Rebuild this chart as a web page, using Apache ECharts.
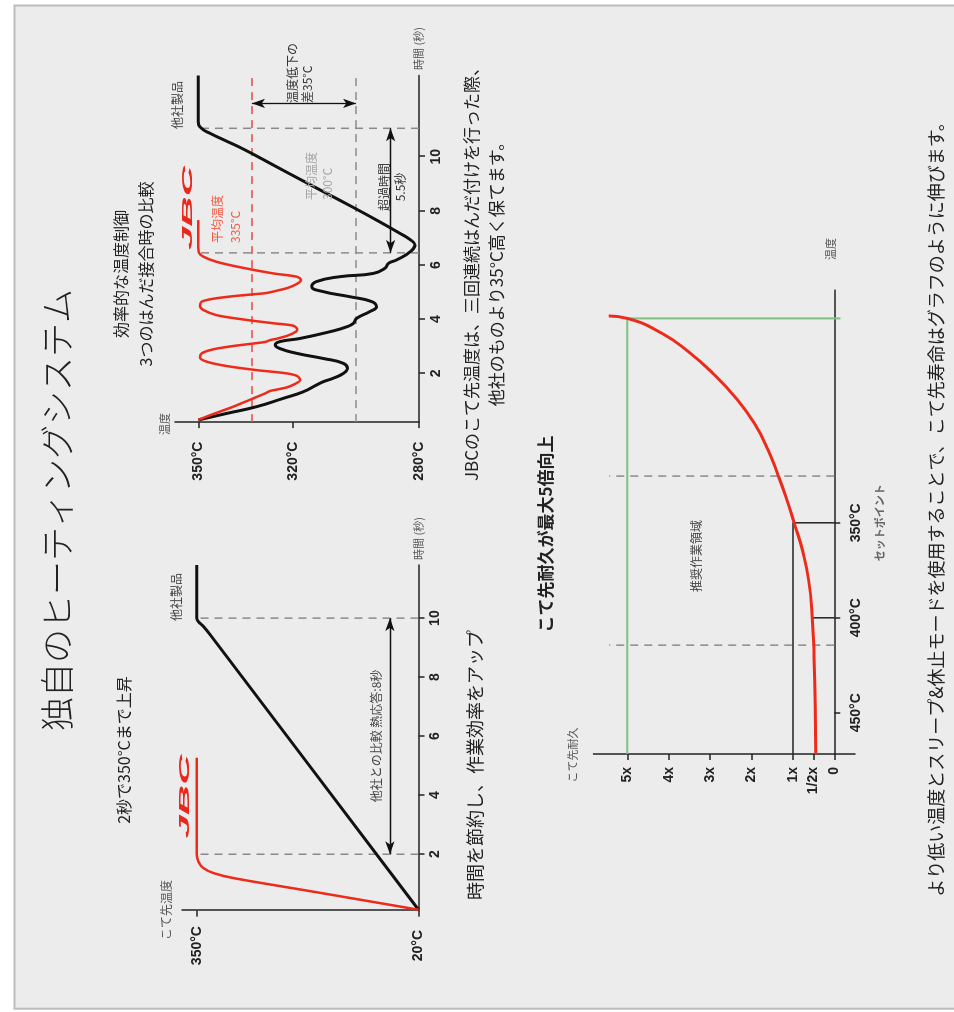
<!DOCTYPE html>
<html><head><meta charset="utf-8">
<script src="https://cdn.jsdelivr.net/npm/echarts@6/dist/echarts.min.js"></script>
<style>
html,body{margin:0;padding:0;overflow:hidden;background:#fff;width:954px;height:1012px}
#wrap{position:absolute;left:0;top:1012px;width:1012px;height:954px;transform-origin:0 0;transform:rotate(-90deg)}
#chart{width:1012px;height:954px}
</style></head><body>
<div id="wrap"><div id="chart"></div></div>
<script>
// ---------- Chart 1: heat-up to 350°C (time s, temperature °C)
const heatUpJbc = [[0.12,20],[0.73,176],[1.19,295],[1.36,325],[1.53,340],[1.75,347.5],[2.0,350],[5.27,350]];
const heatUpOther = [[0.12,20],[9.44,330],[9.72,340],[9.88,347.5],[10,350],[11.8,350]];
const heatUpTimeTicks = [2,4,6,8,10];
const heatUpTempTicks = [20,350];
const heatUpMarks = [2,10];
const heatUpArrowTemp = 62.5;

// ---------- Chart 2: three solder joints (time s, temperature °C)
const solderJbc = [[0.28,350],[0.50,345.2],[0.77,338.9],[1.08,332.5],[1.26,328.8],[1.35,327.2],[1.39,325.6],[1.48,322.0],[1.61,319.3],[1.75,317.7],
 [1.90,318.6],[2.00,322.0],[2.12,331.5],[2.27,341.0],[2.43,347.3],[2.58,349.5],
 [2.74,348.9],[2.89,345.2],[3.01,338.9],[3.11,332.0],[3.16,328.8],[3.23,327.2],[3.28,325.1],[3.40,321.5],[3.54,319.0],[3.63,318.6],
 [3.76,319.9],[3.85,326.2],[3.99,335.7],[4.15,344.2],[4.34,348.4],[4.49,349.5],
 [4.65,348.9],[4.76,345.0],[4.85,338.9],[4.92,332.5],[4.96,328.8],[5.00,327.0],[5.05,325.2],[5.16,321.5],[5.32,318.5],[5.45,317.4],
 [5.57,318.8],[5.69,326.2],[5.92,336.8],[6.12,344.2],[6.31,348.4],[6.46,349.8],[6.68,350],[7.66,350]];
const solderOther = [[0.28,350],[0.52,341.0],[0.77,331.5],[1.08,323.0],[1.32,316.7],[1.57,312.5],[1.69,310.4],[1.82,307.2],[2.00,304.0],[2.18,302.7],
 [2.37,304.0],[2.55,310.4],[2.74,318.8],[2.92,324.2],[3.05,325.6],[3.17,324.2],[3.29,317.7],[3.54,308.2],[3.72,302.9],[3.85,300.8],[4.03,299.8],
 [4.28,295.6],[4.46,293.5],[4.65,295.0],[4.83,301.9],[5.02,310.4],[5.20,314.0],[5.39,312.5],[5.57,305.1],[5.69,294.5],[5.88,290.8],[6.06,289.7],
 [6.19,287.1],[6.49,282.8],[6.74,281.3],[6.92,282.6],[7.2,286.5],[7.6,292.5],[8.2,302.0],[8.8,311.8],[9.4,321.5],[9.9,329.5],[10.3,336.0],
 [10.6,341.5],[10.85,346.0],[11.05,349.0],[11.3,350],[13.0,350]];
const solderAvgJbc = 333;
const solderAvgOther = 300;
const solderMarks = [6.45, 11.05];
const solderTimeTicks = [2,4,6,8,10];
const solderTempTicks = [280,320,350];
const solderOverArrowTemp = 289;
const solderDiffArrowTime = 11.97;

// ---------- Chart 3: tip life vs temperature
const lifeTemp = [471.7,446.8,420.5,400,380.2,364.4,350,336.3,325.4,311.7,297.7,283.7,271.4,260.0,250.3,242.4,241.1];
const lifeVal  = [0.45,0.46,0.49,0.53,0.62,0.77,0.97,1.17,1.35,1.60,1.93,2.40,2.93,3.52,4.16,5.0,5.45];
const lifeTickPos = [450,400,350,242.4];
const lifeTickLabels = ['450°C','400°C','350°C','180°C'];
const lifeTickNotes = ['','','セットポイント','スリープ'];
const lifeValTicks = [0,0.5,1,2,3,4,5];
const lifeValLabels = ['0','1/2x','1x','2x','3x','4x','5x'];
const workZone = [414.4, 325.4];
const workZoneTop = 5.44;
const setpointLife = 1, halfLife = 0.53, sleepLife = 5;

const FONT = '"Noto Sans CJK JP","Noto Sans",sans-serif';
const NUM = '"Liberation Sans",Arial,sans-serif';
const AX = {color:'#222', width:1.5};

function txt(x, y, text, o){
  return {type:'text', x:x, y:y, silent:true, z:50,
    style:Object.assign({text:text, fill:'#222', fontSize:12, fontFamily:FONT, align:'center', verticalAlign:'middle'}, o||{})};
}
function logo(x, y){
  return {type:'text', x:x, y:y, scaleX:2.8, silent:true, z:50,
    style:{text:'JBC', fill:'#e8281c', fontSize:15, fontWeight:900, fontStyle:'italic', fontFamily:NUM, align:'center', verticalAlign:'middle'}};
}
function valAxis(grid, min, max, ticks, fmt, extra){
  return Object.assign({gridIndex:grid, type:'value', min:min, max:max,
    axisLine:{show:true, onZero:true, lineStyle:AX},
    axisTick:{show:true, customValues:ticks, length:6, lineStyle:AX},
    axisLabel:{customValues:ticks, formatter:fmt, color:'#222', fontSize:14, fontWeight:'bold', fontFamily:NUM, margin:10},
    splitLine:{show:false}}, extra||{});
}
function dashed(xi, data, color){
  return {type:'line', xAxisIndex:xi, yAxisIndex:xi, data:data, symbol:'none', silent:true, z:1,
    lineStyle:{color:color||'#8a8a8a', width:1.5, type:[8,6]}};
}
function arrowLines(segs){
  return {silent:true, symbol:['arrow','arrow'], symbolSize:[7,13], label:{show:false},
    lineStyle:{color:'#111', width:1.3, type:'solid'}, emphasis:{disabled:true},
    data:segs.map(s=>[{coord:s[0]},{coord:s[1]}])};
}

const chart = echarts.init(document.getElementById('chart'), null, {width:1012, height:954});

const s1marks = heatUpMarks.map(t=>dashed(0, [[t,20],[t,350]]));
s1marks[0].markLine = arrowLines([[[heatUpMarks[0],heatUpArrowTemp],[heatUpMarks[1],heatUpArrowTemp]]]);

const s2marks = [
  dashed(1, [[0.2,solderAvgJbc],[13,solderAvgJbc]], '#e24a42'),
  dashed(1, [[0.2,solderAvgOther],[13,solderAvgOther]]),
  ...solderMarks.map(t=>dashed(1, [[t,280],[t,350]]))
];
s2marks[1].markLine = arrowLines([
  [[solderMarks[0],solderOverArrowTemp],[solderMarks[1],solderOverArrowTemp]],
  [[solderDiffArrowTime,solderAvgJbc],[solderDiffArrowTime,solderAvgOther]]
]);

const lifeData = lifeTemp.map((t,i)=>[t, lifeVal[i]]);
const findIdx = (arr, v) => arr.findIndex(p=>Math.abs(p-v)<0.01);

chart.setOption({
  animation:false,
  backgroundColor:'#ffffff',
  grid:[
    {left:101.4, top:182, width:345.6, height:236.5},
    {left:589.9, top:175, width:346.6, height:244},
    {left:258, top:593.4, width:463.9, height:261.6}
  ],
  xAxis:[
    valAxis(0, 0.09, 11.8, heatUpTimeTicks, null),
    valAxis(1, 0.2, 13.0, solderTimeTicks, null),
    valAxis(2, 227.5, 471.7, [450,400,350], v=>{
        const i = findIdx(lifeTickPos, v);
        return '{t|'+lifeTickLabels[i]+'}' + (lifeTickNotes[i] ? '\n{s|'+lifeTickNotes[i]+'}' : '');
      }, {inverse:true})
  ],
  yAxis:[
    valAxis(0, 20, 371.9, heatUpTempTicks, v=>v+'°C'),
    valAxis(1, 280, 357.39, solderTempTicks, v=>v+'°C'),
    valAxis(2, -0.5, 5.82, lifeValTicks, v=>lifeValLabels[findIdx(lifeValTicks, v)])
  ],
  series:[
    ...s1marks,
    {type:'line', xAxisIndex:0, yAxisIndex:0, data:heatUpOther, smooth:0.3, symbol:'none', silent:true, z:3, lineStyle:{color:'#111', width:3}},
    {type:'line', xAxisIndex:0, yAxisIndex:0, data:heatUpJbc, smooth:0.3, symbol:'none', silent:true, z:4, lineStyle:{color:'#ee2a1b', width:2.5}},
    ...s2marks,
    {type:'line', xAxisIndex:1, yAxisIndex:1, data:solderOther, smooth:0.5, symbol:'none', silent:true, z:3, lineStyle:{color:'#111', width:3}},
    {type:'line', xAxisIndex:1, yAxisIndex:1, data:solderJbc, smooth:0.3, symbol:'none', silent:true, z:4, lineStyle:{color:'#ee2a1b', width:2.5}},
    ...workZone.map(t=>dashed(2, [[t,0],[t,workZoneTop]])),
    {type:'line', xAxisIndex:2, yAxisIndex:2, data:[[471.7,setpointLife],[350,setpointLife],[350,0]], symbol:'none', silent:true, z:2, lineStyle:{color:'#222', width:1.5}},
    {type:'line', xAxisIndex:2, yAxisIndex:2, data:[[400,halfLife],[400,0]], symbol:'none', silent:true, z:2, lineStyle:{color:'#222', width:1.5}},
    {type:'line', xAxisIndex:2, yAxisIndex:2, data:[[471.7,sleepLife],[242.4,sleepLife],[242.4,-0.15]], symbol:'none', silent:true, z:2, lineStyle:{color:'#80c080', width:2}},
    {type:'line', xAxisIndex:2, yAxisIndex:2, data:lifeData, smooth:0.5, symbol:'none', silent:true, z:4, lineStyle:{color:'#ee2a1b', width:3}}
  ],
  graphic:{elements:[
    {type:'rect', shape:{x:3.3, y:14.5, width:1003.2, height:960}, style:{fill:'#ececec', stroke:'#bcbcbc', lineWidth:2}, z:-10, silent:true},
    txt(502, 57, '独自のヒーティングシステム', {fontSize:34, fontWeight:300}),
    txt(262, 124, '2秒で350°Cまで上昇', {fontSize:16}),
    txt(738, 121, '効率的な温度制御', {fontSize:16}),
    txt(738, 146, '3つのはんだ接合時の比較', {fontSize:16}),
    txt(247, 475, '時間を節約し、作業効率をアップ', {fontSize:18}),
    txt(742, 472, 'JBCのこて先温度は、三回連続はんだ付けを行った際、', {fontSize:17}),
    txt(742, 497, '他社のものより35°C高く保てます。', {fontSize:17}),
    txt(478, 546, 'こて先耐久が最大5倍向上', {fontSize:17, fontWeight:'bold'}),
    txt(507, 936, 'より低い温度とスリープ&休止モードを使用することで、こて先寿命はグラフのように伸びます。', {fontSize:18}),
    txt(102, 166, 'こて先温度', {fontSize:12, fill:'#555'}),
    txt(452, 418.5, '時間 (秒)', {fontSize:11, fill:'#555', align:'left'}),
    txt(588, 165, '温度', {fontSize:11, fill:'#555'}),
    txt(942, 418.5, '時間 (秒)', {fontSize:11, fill:'#555', align:'left'}),
    txt(257, 573, 'こて先耐久', {fontSize:11, fill:'#555'}),
    txt(752, 831, '温度', {fontSize:11, fill:'#555', align:'left'}),
    txt(415, 176, '他社製品', {fontSize:12, fill:'#444'}),
    txt(907, 177.5, '他社製品', {fontSize:12, fill:'#444'}),
    txt(276, 376, '他社との比較 熱応答:8秒', {fontSize:12, fill:'#444'}),
    txt(769, 217.5, '平均温度', {fill:'#ef5b45', align:'left'}),
    txt(769, 235, '335°C', {fill:'#ef5b45', align:'left'}),
    txt(812, 311, '平均温度', {fill:'#a5a5a5', align:'left'}),
    txt(812, 327.5, '300°C', {fill:'#a5a5a5', align:'left'}),
    txt(825, 384, '超過時間', {fill:'#333'}),
    txt(825, 400, '5.5秒', {fill:'#333'}),
    txt(909, 292.5, '温度低下の', {fill:'#333', align:'left'}),
    txt(909, 307.5, '差35°C', {fill:'#333', align:'left'}),
    txt(456, 696, '推奨作業領域', {fontSize:12, fill:'#444'}),
    logo(215.5, 185.3),
    logo(804, 188)
  ]}
});
chart.setOption({
  xAxis:[{}, {}, {axisLabel:{margin:-7.3, rich:{
      t:{fontSize:14, fontWeight:'bold', color:'#222', fontFamily:NUM, lineHeight:16},
      s:{fontSize:11, color:'#666', fontFamily:FONT, lineHeight:32}}}}],
  yAxis:[{axisLabel:{align:'center', margin:35}}, {axisLabel:{align:'center', margin:39}}, {axisLabel:{margin:13}}]
});
</script>
</body></html>
